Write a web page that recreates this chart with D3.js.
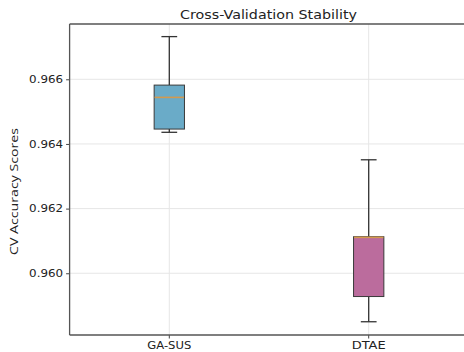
<!DOCTYPE html>
<html>
<head>
<meta charset="utf-8">
<script src="https://cdn.jsdelivr.net/npm/d3@7"></script>
<style>
  html, body { margin: 0; padding: 0; background: #fff; }
  svg { display: block; }
</style>
</head>
<body>
<svg id="chart" width="464" height="352"></svg>
<script>
// Cross-validation accuracy summaries per model
const categories = ["GA-SUS", "DTAE"];
const whiskerLow  = [0.96436, 0.95850];
const q1          = [0.96446, 0.95928];
const median      = [0.96544, 0.96111];
const q3          = [0.96582, 0.96113];
const whiskerHigh = [0.96732, 0.96351];
const boxColors   = ["#6aabc8", "#bb6c9d"];
const yTicks      = [0.960, 0.962, 0.964, 0.966];

const svg = d3.select("#chart");
const plot = { left: 69.6, right: 468.4, top: 24, bottom: 335 };

const x = d3.scaleBand().domain(categories).range([plot.left, plot.right]).padding(0);
const y = d3.scaleLinear().domain([0.95809, 0.96771]).range([plot.bottom, plot.top]);

const boxW = x.bandwidth() * 0.152;
const capW = boxW * 0.52;

// grid
const grid = svg.append("g").attr("stroke", "#e6e6e6").attr("stroke-width", 1);
grid.selectAll("line.h").data(yTicks).join("line")
  .attr("x1", plot.left).attr("x2", plot.right)
  .attr("y1", d => y(d)).attr("y2", d => y(d));
grid.selectAll("line.v").data(categories).join("line")
  .attr("x1", d => x(d) + x.bandwidth() / 2).attr("x2", d => x(d) + x.bandwidth() / 2)
  .attr("y1", plot.top).attr("y2", plot.bottom);

// boxes
const data = categories.map((c, i) => ({
  c, lo: whiskerLow[i], q1: q1[i], med: median[i], q3: q3[i], hi: whiskerHigh[i], color: boxColors[i]
}));
const g = svg.append("g");
const box = g.selectAll("g.box").data(data).join("g")
  .attr("transform", d => `translate(${x(d.c) + x.bandwidth() / 2},0)`);

box.append("line").attr("stroke", "#333").attr("stroke-width", 1.3)
  .attr("x1", 0).attr("x2", 0).attr("y1", d => y(d.q3)).attr("y2", d => y(d.hi));
box.append("line").attr("stroke", "#333").attr("stroke-width", 1.3)
  .attr("x1", 0).attr("x2", 0).attr("y1", d => y(d.q1)).attr("y2", d => y(d.lo));
box.append("line").attr("stroke", "#333").attr("stroke-width", 1.3)
  .attr("x1", -capW / 2).attr("x2", capW / 2).attr("y1", d => y(d.hi)).attr("y2", d => y(d.hi));
box.append("line").attr("stroke", "#333").attr("stroke-width", 1.3)
  .attr("x1", -capW / 2).attr("x2", capW / 2).attr("y1", d => y(d.lo)).attr("y2", d => y(d.lo));
box.append("rect")
  .attr("x", -boxW / 2).attr("width", boxW)
  .attr("y", d => y(d.q3)).attr("height", d => y(d.q1) - y(d.q3))
  .attr("fill", d => d.color).attr("stroke", "#3a3a3a").attr("stroke-width", 1);
box.append("line").attr("stroke", "#d39a4e").attr("stroke-width", 1.6)
  .attr("x1", -boxW / 2 + 0.5).attr("x2", boxW / 2 - 0.5)
  .attr("y1", d => y(d.med)).attr("y2", d => y(d.med));

// y axis
const yAxis = svg.append("g").attr("transform", `translate(${plot.left},0)`)
  .call(d3.axisLeft(y).tickValues(yTicks).tickFormat(d3.format(".3f")).tickSize(3.5).tickPadding(3));
yAxis.select(".domain").remove();
yAxis.selectAll(".tick line").attr("stroke", "#444");
yAxis.selectAll("text").attr("font-family", "DejaVu Sans").attr("font-size", 10).attr("fill", "#222")
  .attr("textLength", 34).attr("lengthAdjust", "spacingAndGlyphs");

// x axis
const xLabelWidths = { "GA-SUS": 44, "DTAE": 34 };
const xAxis = svg.append("g").attr("transform", `translate(0,${plot.bottom})`)
  .call(d3.axisBottom(x).tickSize(3.5).tickPadding(3.5));
xAxis.select(".domain").remove();
xAxis.selectAll(".tick line").attr("stroke", "#444");
xAxis.selectAll("text").attr("font-family", "DejaVu Sans").attr("font-size", 10).attr("fill", "#222")
  .attr("textLength", d => xLabelWidths[d]).attr("lengthAdjust", "spacingAndGlyphs");

// spines
svg.append("line").attr("x1", plot.left).attr("x2", plot.left).attr("y1", plot.top).attr("y2", plot.bottom)
  .attr("stroke", "#555").attr("stroke-width", 1.3);
svg.append("line").attr("x1", plot.left).attr("x2", plot.right).attr("y1", plot.top).attr("y2", plot.top)
  .attr("stroke", "#555").attr("stroke-width", 1.3);
svg.append("line").attr("x1", plot.left).attr("x2", plot.right).attr("y1", plot.bottom).attr("y2", plot.bottom)
  .attr("stroke", "#555").attr("stroke-width", 1.3);

// title
svg.append("text").attr("x", 268.5).attr("y", 18.5)
  .attr("text-anchor", "middle").attr("font-family", "DejaVu Sans").attr("font-size", 12.5)
  .attr("textLength", 177).attr("lengthAdjust", "spacingAndGlyphs")
  .attr("fill", "#222").text("Cross-Validation Stability");

// y label
svg.append("text").attr("transform", `translate(18,${(plot.top + plot.bottom) / 2 + 12}) rotate(-90)`)
  .attr("text-anchor", "middle").attr("font-family", "Open Sans").attr("font-size", 11)
  .attr("textLength", 127).attr("lengthAdjust", "spacingAndGlyphs")
  .attr("fill", "#222").text("CV Accuracy Scores");
</script>
</body>
</html>
